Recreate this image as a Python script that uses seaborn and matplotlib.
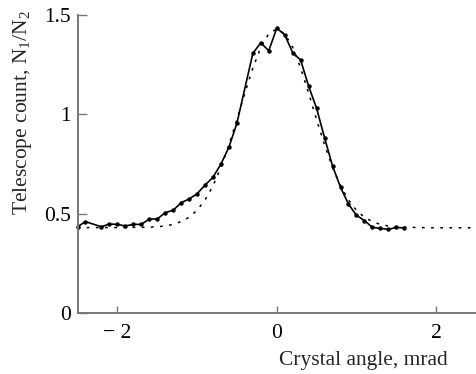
import numpy as np
import pandas as pd
import seaborn as sns
import matplotlib
matplotlib.use("Agg")
import matplotlib.pyplot as plt

# measured points (solid line with markers)
meas_x = [-2.5, -2.4, -2.2, -2.1, -2.0, -1.9, -1.8, -1.7, -1.6, -1.5, -1.4, -1.3,
          -1.2, -1.1, -1.0, -0.9, -0.8, -0.7, -0.6, -0.5, -0.3, -0.2, -0.1,
          0.0, 0.1, 0.2, 0.3, 0.4, 0.5, 0.6, 0.7, 0.8, 0.9, 1.0, 1.1, 1.2, 1.3,
          1.4, 1.5, 1.6]
meas_y = [0.434, 0.460, 0.434, 0.448, 0.446, 0.438, 0.446, 0.446, 0.473, 0.473,
          0.505, 0.517, 0.555, 0.574, 0.600, 0.644, 0.683, 0.750, 0.835, 0.955,
          1.307, 1.360, 1.320, 1.434, 1.400, 1.310, 1.273, 1.142, 1.030,
          0.882, 0.740, 0.633, 0.548, 0.492, 0.465, 0.431, 0.426, 0.421, 0.431,
          0.428]

# fitted curve (dotted)
fit_x = [-2.5, -2.0, -1.8, -1.6, -1.5, -1.4, -1.3, -1.2, -1.1, -1.0, -0.9, -0.8,
         -0.7, -0.6, -0.5, -0.4, -0.3, -0.2, -0.1, 0.0, 0.1, 0.2, 0.3, 0.4, 0.5,
         0.6, 0.7, 0.8, 0.9, 1.0, 1.1, 1.2, 1.3, 1.4, 1.5, 1.6, 1.8, 2.0, 2.5]
fit_y = [0.430, 0.430, 0.431, 0.432, 0.434, 0.438, 0.446, 0.460, 0.482, 0.517,
         0.569, 0.640, 0.733, 0.846, 0.973, 1.107, 1.233, 1.337, 1.406, 1.430,
         1.406, 1.337, 1.233, 1.107, 0.973, 0.846, 0.733, 0.640, 0.569, 0.517,
         0.482, 0.460, 0.446, 0.438, 0.434, 0.432, 0.430, 0.429, 0.429]

x_ticks = [-2, 0, 2]
x_ticklabels = ["\u2212 2", "0", "2"]
y_ticks = [0, 0.5, 1, 1.5]
y_ticklabels = ["0", "0.5", "1", "1.5"]

sns.set_style("ticks")
plt.rcParams["font.family"] = ["Liberation Serif", "DejaVu Serif"]
plt.rcParams["mathtext.fontset"] = "custom"
plt.rcParams["mathtext.rm"] = "Liberation Serif"
plt.rcParams["mathtext.it"] = "Liberation Serif:italic"

fig = plt.figure(figsize=(4.76, 3.74), dpi=100)
ax = fig.add_axes([77.5 / 476, 1 - 313 / 374, 1 - 77.5 / 476, (313 - 15) / 374])

df_fit = pd.DataFrame({"x": fit_x, "y": fit_y})
df_meas = pd.DataFrame({"x": meas_x, "y": meas_y})

sns.lineplot(data=df_fit, x="x", y="y", ax=ax, color="black", lw=1.1,
             linestyle=(0, (1.8, 4.2)), sort=False)
sns.lineplot(data=df_meas, x="x", y="y", ax=ax, color="black", lw=1.2,
             marker="o", markersize=3.2, markeredgewidth=0, sort=False,
             clip_on=False)

ax.set_xlim(-2.5, 2.5)
ax.set_ylim(0, 1.5)
ax.set_xticks(x_ticks)
ax.set_xticklabels(x_ticklabels)
ax.set_yticks(y_ticks)
ax.set_yticklabels(y_ticklabels)
ax.set_xlabel("")
ax.set_ylabel("")

for s in ["top", "right"]:
    ax.spines[s].set_visible(False)
for s in ["left", "bottom"]:
    ax.spines[s].set_color("#777777")
    ax.spines[s].set_linewidth(1.4)

ax.tick_params(axis="both", direction="in", colors="#777777", labelcolor="black",
               labelsize=15.5, width=1.0)
ax.tick_params(axis="y", length=6.5, pad=5)
ax.tick_params(axis="x", length=5, pad=8)

fig.text(363 / 476, 1 - 365 / 374, "Crystal angle, mrad", ha="center",
         va="baseline", fontsize=15.5)
fig.text(23 / 476, 1 - 112.5 / 374, r"Telescope count, N$_1$/N$_2$",
         rotation=90, ha="center", va="center", fontsize=15.5)

fig.savefig("out.png", dpi=100)
